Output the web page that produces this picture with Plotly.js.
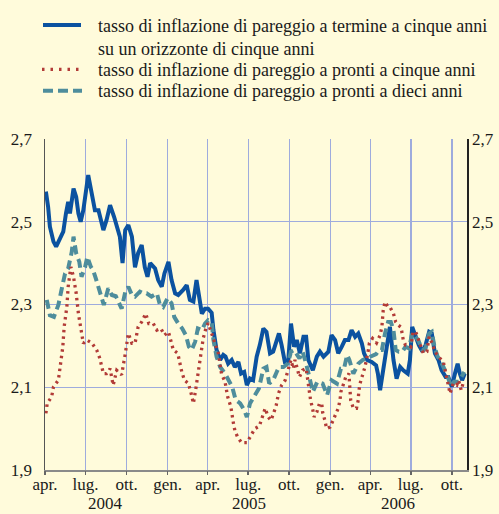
<!DOCTYPE html>
<html><head><meta charset="utf-8">
<script src="https://cdn.plot.ly/plotly-3.0.1.min.js"></script>
<style>html,body{margin:0;padding:0;background:#fffbdb;}</style>
</head><body><div id="chart" style="width:499px;height:514px;"></div>
<script>
// ---- data ----
const seriesNames = [
  'tasso di inflazione di pareggio a termine a cinque anni',
  'tasso di inflazione di pareggio a pronti a cinque anni',
  'tasso di inflazione di pareggio a pronti a dieci anni'
];
const seriesName1Line2 = 'su un orizzonte di cinque anni';

const fwdDates = [
 '2004-04-03','2004-04-08','2004-04-12','2004-04-20','2004-04-26','2004-05-05','2004-05-12','2004-05-18','2004-05-23','2004-05-27',
 '2004-06-04','2004-06-10','2004-06-15','2004-06-20','2004-06-26','2004-07-07','2004-07-15','2004-07-22','2004-07-30','2004-08-10',
 '2004-08-17','2004-08-25','2004-09-03','2004-09-16','2004-09-22','2004-09-28','2004-10-05','2004-10-13','2004-10-20','2004-10-27',
 '2004-11-04','2004-11-11','2004-11-17','2004-11-23','2004-12-04','2004-12-11','2004-12-19','2004-12-25',
 '2005-01-03','2005-01-10','2005-01-18','2005-01-25','2005-02-05','2005-02-13','2005-02-20','2005-02-28','2005-03-07','2005-03-13',
 '2005-03-19','2005-03-26','2005-04-02','2005-04-10','2005-04-14','2005-04-21','2005-04-29','2005-05-06','2005-05-11','2005-05-17',
 '2005-05-25','2005-06-01','2005-06-09','2005-06-15','2005-06-22','2005-06-28','2005-07-05','2005-07-12','2005-07-20','2005-07-27',
 '2005-08-04','2005-08-11','2005-08-19','2005-08-26','2005-09-03','2005-09-08','2005-09-14','2005-09-22','2005-09-29','2005-10-05',
 '2005-10-12','2005-10-18','2005-10-25','2005-11-02','2005-11-08','2005-11-13','2005-11-23','2005-12-02','2005-12-09','2005-12-17','2005-12-28',
 '2006-01-04','2006-01-12','2006-01-19','2006-01-27','2006-02-03','2006-02-11','2006-02-18','2006-02-26','2006-03-05','2006-03-13',
 '2006-03-18','2006-03-25','2006-04-04','2006-04-14','2006-04-18','2006-04-23','2006-04-30','2006-05-08','2006-05-15','2006-05-23',
 '2006-05-30','2006-06-07','2006-06-14','2006-06-24','2006-06-29','2006-07-04','2006-07-12','2006-07-19','2006-07-27','2006-08-03',
 '2006-08-11','2006-08-17','2006-08-24','2006-09-01','2006-09-08','2006-09-17','2006-09-23','2006-10-01','2006-10-08','2006-10-14',
 '2006-10-19','2006-10-24','2006-10-30'
];
const fwdValues = [
 2.573,2.536,2.488,2.452,2.440,2.460,2.476,2.520,2.548,2.520,
 2.580,2.560,2.520,2.500,2.528,2.613,2.569,2.528,2.528,2.480,
 2.504,2.540,2.512,2.464,2.400,2.480,2.492,2.464,2.390,2.424,
 2.444,2.390,2.367,2.400,2.387,2.359,2.343,2.375,
 2.403,2.359,2.327,2.323,2.335,2.347,2.311,2.307,2.359,2.319,
 2.278,2.290,2.290,2.280,2.238,2.190,2.166,2.178,2.174,2.157,
 2.166,2.149,2.161,2.133,2.137,2.105,2.121,2.117,2.174,2.202,
 2.242,2.234,2.182,2.186,2.218,2.230,2.202,2.157,2.166,2.254,
 2.198,2.214,2.182,2.222,2.222,2.166,2.141,2.174,2.186,2.174,2.186,
 2.226,2.214,2.182,2.198,2.214,2.214,2.238,2.222,2.230,2.206,
 2.182,2.166,2.161,2.153,2.133,2.093,2.149,2.198,2.246,2.166,
 2.121,2.149,2.141,2.133,2.166,2.246,2.222,2.202,2.186,2.202,
 2.234,2.230,2.182,2.166,2.141,2.125,2.125,2.101,2.133,2.157,
 2.133,2.117,2.133
];

const spot5Dates = [
 '2004-04-03','2004-04-06','2004-04-16','2004-04-20','2004-05-01','2004-05-06','2004-05-11','2004-05-14','2004-05-20','2004-05-23',
 '2004-05-29','2004-06-04','2004-06-10','2004-06-15','2004-06-20','2004-06-26','2004-07-04','2004-07-15','2004-07-26','2004-08-02',
 '2004-08-10','2004-08-17','2004-08-25','2004-09-01','2004-09-09','2004-09-20','2004-09-28','2004-10-05','2004-10-13','2004-10-20',
 '2004-10-27','2004-11-04','2004-11-13','2004-11-20','2004-11-30','2004-12-08','2004-12-17','2004-12-25',
 '2005-01-03','2005-01-10','2005-01-14','2005-01-24','2005-01-29','2005-02-02','2005-02-08','2005-02-17','2005-02-23','2005-02-28',
 '2005-03-05','2005-03-11','2005-03-17','2005-03-22','2005-03-28','2005-04-02','2005-04-10','2005-04-17','2005-04-25','2005-05-02',
 '2005-05-10','2005-05-16','2005-05-23','2005-05-29','2005-06-01','2005-06-07','2005-06-16','2005-06-28','2005-07-07','2005-07-16',
 '2005-07-26','2005-08-02','2005-08-08','2005-08-15','2005-08-21','2005-08-27','2005-09-02','2005-09-07','2005-09-14','2005-09-22',
 '2005-09-29','2005-10-05','2005-10-10','2005-10-14','2005-10-24','2005-10-31','2005-11-08','2005-11-13','2005-11-15','2005-11-18',
 '2005-11-23','2005-11-26','2005-12-02','2005-12-08','2005-12-13','2005-12-15','2005-12-20','2005-12-24',
 '2006-01-01','2006-01-08','2006-01-14','2006-01-19','2006-01-23','2006-01-25','2006-01-30','2006-02-05','2006-02-12','2006-02-14',
 '2006-02-16','2006-02-22','2006-03-01','2006-03-05','2006-03-06','2006-03-09','2006-03-15','2006-03-20','2006-03-27','2006-03-30',
 '2006-04-06','2006-04-15','2006-04-23','2006-04-27','2006-04-30','2006-05-04','2006-05-11','2006-05-15','2006-05-23','2006-05-28',
 '2006-06-03','2006-06-09','2006-06-14','2006-06-19','2006-06-25','2006-07-01','2006-07-06','2006-07-12','2006-07-16','2006-07-22',
 '2006-07-29','2006-08-06','2006-08-11','2006-08-18','2006-08-24','2006-09-01','2006-09-07','2006-09-12','2006-09-19','2006-09-27',
 '2006-10-04','2006-10-12','2006-10-16','2006-10-22','2006-10-27'
];
const spot5Values = [
 2.037,2.061,2.077,2.101,2.117,2.157,2.198,2.246,2.294,2.343,
 2.391,2.367,2.327,2.278,2.246,2.206,2.214,2.207,2.190,2.170,
 2.133,2.133,2.145,2.105,2.141,2.130,2.180,2.230,2.206,2.206,
 2.246,2.258,2.278,2.254,2.254,2.238,2.242,2.226,
 2.234,2.210,2.190,2.182,2.157,2.137,2.117,2.109,2.085,2.061,
 2.093,2.141,2.182,2.218,2.242,2.255,2.230,2.206,2.182,2.133,
 2.113,2.077,2.053,2.012,1.996,1.980,1.966,1.966,1.984,2.000,
 2.006,2.028,2.049,2.028,2.020,2.037,2.057,2.085,2.105,2.117,
 2.141,2.166,2.145,2.166,2.125,2.141,2.145,2.109,2.089,2.069,
 2.045,2.028,2.040,2.061,2.061,2.040,2.020,2.000,
 2.004,2.020,2.037,2.049,2.069,2.089,2.105,2.125,2.133,2.089,
 2.069,2.049,2.049,2.069,2.089,2.109,2.129,2.149,2.186,2.207,
 2.218,2.207,2.226,2.246,2.286,2.306,2.294,2.294,2.278,2.258,
 2.250,2.245,2.214,2.202,2.202,2.198,2.234,2.234,2.222,2.202,
 2.182,2.186,2.222,2.206,2.186,2.174,2.166,2.161,2.125,2.085,
 2.109,2.105,2.117,2.093,2.113
];

const spot10Dates = [
 '2004-04-05','2004-04-12','2004-04-21','2004-05-01','2004-05-08','2004-05-16','2004-05-23','2004-05-31','2004-06-04','2004-06-10',
 '2004-06-17','2004-06-22','2004-06-30','2004-07-05','2004-07-13','2004-07-18','2004-07-24','2004-08-02','2004-08-11','2004-08-21',
 '2004-08-29','2004-09-07','2004-09-20','2004-09-28','2004-10-05','2004-10-13','2004-10-20','2004-10-31','2004-11-08','2004-11-15',
 '2004-11-26','2004-12-08','2004-12-15','2004-12-22',
 '2005-01-01','2005-01-10','2005-01-16','2005-01-25','2005-02-03','2005-02-11','2005-02-18','2005-02-24','2005-03-04','2005-03-10',
 '2005-03-19','2005-03-26','2005-04-02','2005-04-10','2005-04-14','2005-04-21','2005-04-29','2005-05-10','2005-05-19','2005-05-26',
 '2005-06-03','2005-06-13','2005-06-22','2005-06-28','2005-07-05','2005-07-15','2005-07-25','2005-08-04','2005-08-11','2005-08-17',
 '2005-08-26','2005-09-03','2005-09-08','2005-09-18','2005-09-28','2005-10-05','2005-10-12','2005-10-24','2005-10-31','2005-11-08',
 '2005-11-15','2005-11-23','2005-12-03','2005-12-15','2005-12-25',
 '2006-01-04','2006-01-16','2006-01-25','2006-02-01','2006-02-08','2006-02-13','2006-02-22','2006-03-05','2006-03-15','2006-03-24',
 '2006-04-04','2006-04-14','2006-04-21','2006-04-27','2006-05-04','2006-05-11','2006-05-17','2006-05-23','2006-05-28','2006-06-04',
 '2006-06-12','2006-06-19','2006-06-27','2006-07-04','2006-07-12','2006-07-19','2006-07-27','2006-08-03','2006-08-11','2006-08-17',
 '2006-08-23','2006-08-30','2006-09-07','2006-09-14','2006-09-22','2006-09-29','2006-10-06','2006-10-16','2006-10-22','2006-10-29'
];
const spot10Values = [
 2.311,2.274,2.270,2.299,2.335,2.375,2.387,2.427,2.464,2.424,
 2.403,2.367,2.391,2.415,2.391,2.383,2.363,2.327,2.299,2.339,
 2.323,2.320,2.290,2.330,2.343,2.323,2.319,2.331,2.327,2.327,
 2.319,2.327,2.299,2.294,
 2.315,2.303,2.270,2.254,2.242,2.226,2.198,2.190,2.210,2.242,
 2.238,2.254,2.262,2.258,2.214,2.174,2.149,2.133,2.117,2.101,
 2.069,2.061,2.045,2.028,2.061,2.081,2.097,2.145,2.149,2.109,
 2.117,2.137,2.149,2.149,2.157,2.186,2.190,2.170,2.186,2.157,
 2.125,2.089,2.113,2.109,2.081,
 2.117,2.109,2.145,2.145,2.178,2.166,2.133,2.157,2.166,2.170,
 2.174,2.180,2.190,2.190,2.230,2.258,2.258,2.238,2.190,2.186,
 2.186,2.198,2.194,2.230,2.222,2.210,2.190,2.194,2.230,2.234,
 2.198,2.174,2.161,2.145,2.125,2.101,2.113,2.113,2.125,2.137
];

const xTickVals = ['2004-04-01','2004-07-01','2004-10-01','2005-01-01','2005-04-01','2005-07-01','2005-10-01',
                   '2006-01-01','2006-04-01','2006-07-01','2006-10-01'];
const xTickText = ['apr.','lug.','ott.','gen.','apr.','lug.','ott.','gen.','apr.','lug.','ott.'];
const xRange = ['2004-04-01', '2006-11-04'];
const yearLabels = ['2004','2005','2006'];
const yearCenters = ['2004-08-15','2005-07-02','2006-06-03'];
const yTickVals = [1.9, 2.1, 2.3, 2.5, 2.7];
const yTickText = ['1,9','2,1','2,3','2,5','2,7'];
const yRange = [1.9, 2.7];

// ---- styling ----
const W = 499, H = 514;
const M = {l: 45, r: 32, t: 139, b: 44};
const PW = W - M.l - M.r, PH = H - M.t - M.b;
const px = x => (x - M.l) / PW;
const py = y => (H - M.b - y) / PH;

const BG = '#fffbdb';
const GRID = '#9eabdd';
const FONT = 'Liberation Serif, Times New Roman, serif';
const TXT = '#1a1a1a';
const C_FWD = '#0b52a0', C_S5 = '#b23b37', C_S10 = '#4e8d9c';
const DASH_S5 = '2.5px,4px', DASH_S10 = '9px,5px';
const tickFont = {family: FONT, size: 17, color: TXT};

const traces = [
  {x: fwdDates, y: fwdValues, name: seriesNames[0] + ' ' + seriesName1Line2, type: 'scatter', mode: 'lines',
   line: {color: C_FWD, width: 4}, showlegend: false},
  {x: spot10Dates, y: spot10Values, name: seriesNames[2], type: 'scatter', mode: 'lines',
   line: {color: C_S10, width: 4, dash: DASH_S10}, showlegend: false},
  {x: spot5Dates, y: spot5Values, name: seriesNames[1], type: 'scatter', mode: 'lines',
   line: {color: C_S5, width: 3.3, dash: DASH_S5}, showlegend: false},
  // empty helper trace so the right-hand axis and the tick-mark axis are drawn
  {x: [xRange[0]], y: [yRange[0]], xaxis: 'x2', yaxis: 'y2', type: 'scatter', mode: 'lines',
   showlegend: false, hoverinfo: 'skip'}
];

const legendRows = [
  {text: seriesNames[0], y: 26},
  {text: seriesName1Line2, y: 48.5},
  {text: seriesNames[1], y: 70.5},
  {text: seriesNames[2], y: 91.5}
];
const annotations = legendRows.map(r => ({
  xref: 'paper', yref: 'paper', x: px(96), y: py(r.y), xanchor: 'left', yanchor: 'middle',
  text: r.text, showarrow: false, font: {family: FONT, size: 18, color: TXT}
}));
yearLabels.forEach((t, i) => annotations.push({
  xref: 'x', yref: 'paper', x: yearCenters[i], y: py(513.5), xanchor: 'center', yanchor: 'bottom',
  borderpad: 0, text: t, showarrow: false, font: {family: FONT, size: 17, color: TXT}
}));

const shapes = [
  {type: 'line', xref: 'paper', yref: 'paper', x0: px(43), x1: px(81), y0: py(25), y1: py(25), line: {color: C_FWD, width: 4}},
  {type: 'line', xref: 'paper', yref: 'paper', x0: px(42), x1: px(82), y0: py(69.3), y1: py(69.3), line: {color: C_S5, width: 3.3, dash: '2.5px,6px'}},
  {type: 'line', xref: 'paper', yref: 'paper', x0: px(43), x1: px(82), y0: py(90.7), y1: py(90.7), line: {color: C_S10, width: 4, dash: '10px,5px'}}
];

const layout = {
  width: W, height: H, margin: M,
  paper_bgcolor: BG, plot_bgcolor: BG,
  font: {family: FONT, size: 18, color: TXT},
  showlegend: false,
  xaxis: {
    type: 'date', range: xRange,
    tickmode: 'array', tickvals: xTickVals, ticktext: xTickText,
    ticks: '', showgrid: true, gridcolor: GRID, gridwidth: 1.3,
    showline: true, linecolor: '#8a8a8a', linewidth: 2,
    zeroline: false, tickfont: tickFont, ticklabelstandoff: -2
  },
  xaxis2: {
    type: 'date', range: xRange, overlaying: 'x', anchor: 'y', side: 'bottom',
    tickmode: 'array', tickvals: xTickVals, showticklabels: false,
    ticks: 'outside', ticklen: 4, tickwidth: 1.5, tickcolor: '#666',
    showgrid: false, showline: false, zeroline: false
  },
  yaxis: {
    range: yRange, tickmode: 'array', tickvals: yTickVals, ticktext: yTickText,
    ticks: '', showgrid: true, gridcolor: GRID, gridwidth: 1.3,
    showline: true, linecolor: '#555', linewidth: 1.5, zeroline: false,
    ticklabelstandoff: 8, tickfont: tickFont
  },
  yaxis2: {
    overlaying: 'y', side: 'right', anchor: 'x',
    range: yRange, tickmode: 'array', tickvals: yTickVals, ticktext: yTickText,
    ticks: '', showgrid: false, showline: true, linecolor: '#222', linewidth: 1.5, zeroline: false,
    ticklabelstandoff: 0, tickfont: tickFont
  },
  annotations: annotations,
  shapes: shapes
};

Plotly.newPlot('chart', traces, layout, {staticPlot: true, displayModeBar: false});
</script></body></html>
